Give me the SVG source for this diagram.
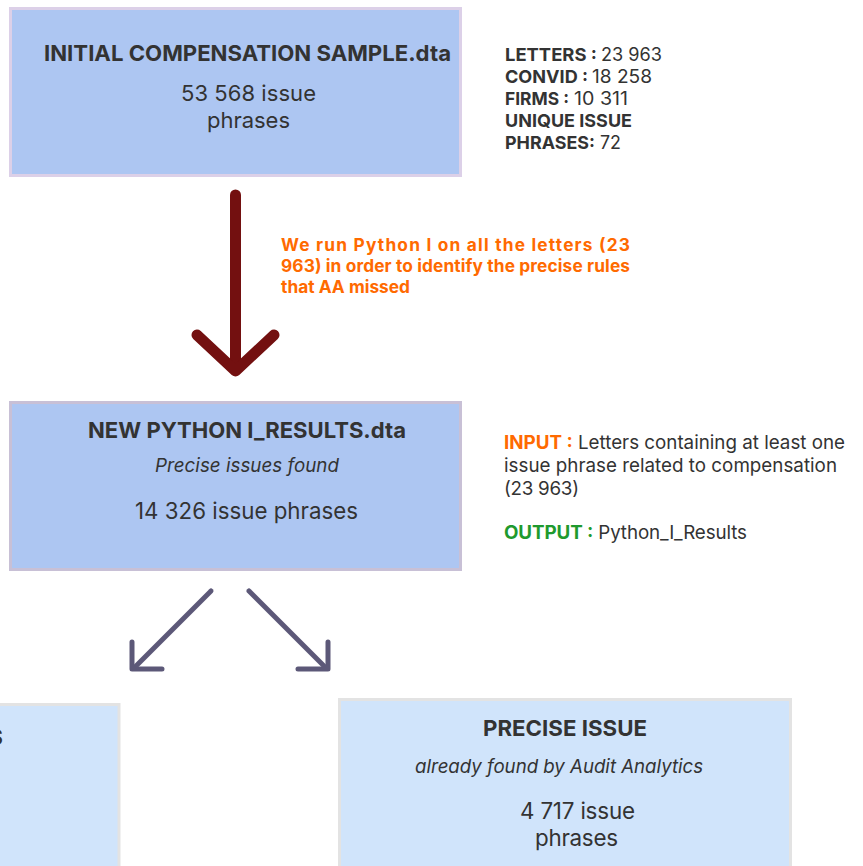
<svg xmlns="http://www.w3.org/2000/svg" width="863" height="866" viewBox="0 0 863 866">
<style>
text{font-family:Inter,"Noto Sans","Liberation Sans",sans-serif;fill:#333333}
.b{font-weight:700}
.i{font-style:italic}
.main{fill:#adc6f2;stroke:#dcd0e8;stroke-width:3}
.main2{fill:#adc6f2;stroke:#c8c0d6;stroke-width:3}
.sub{fill:#d0e4fb;stroke:#e3e3e3;stroke-width:3}
.or{fill:#ff6a00}
.gr{fill:#1f9a2e}
.m{text-anchor:middle}
</style>
<rect width="863" height="866" fill="#ffffff"/>
<g id="node-initial">
<rect class="main" x="10.5" y="8.5" width="450" height="167"/>
<text class="b" x="44" y="61" font-size="22" textLength="407" lengthAdjust="spacingAndGlyphs">INITIAL COMPENSATION SAMPLE.dta</text>
<text class="m" x="248.5" y="101" font-size="22" textLength="135">53 568 issue</text>
<text class="m" x="248.5" y="128" font-size="22" textLength="83">phrases</text>
</g>
<g id="note-stats" font-size="18">
<text class="b" x="505" y="61" textLength="92" lengthAdjust="spacingAndGlyphs">LETTERS :</text><text x="601" y="61" textLength="61" lengthAdjust="spacingAndGlyphs">23 963</text>
<text class="b" x="505" y="83" textLength="83" lengthAdjust="spacingAndGlyphs">CONVID :</text><text x="592" y="83" textLength="60" lengthAdjust="spacingAndGlyphs">18 258</text>
<text class="b" x="505" y="105" textLength="64" lengthAdjust="spacingAndGlyphs">FIRMS :</text><text x="574" y="105" textLength="54" lengthAdjust="spacingAndGlyphs">10 311</text>
<text class="b" x="505" y="127" textLength="127" lengthAdjust="spacingAndGlyphs">UNIQUE ISSUE</text>
<text class="b" x="505" y="149" textLength="90" lengthAdjust="spacingAndGlyphs">PHRASES:</text><text x="600" y="149" textLength="21" lengthAdjust="spacingAndGlyphs">72</text>
</g>
<g id="note-python" font-size="17.3" font-weight="700">
<text class="or" x="281" y="251" textLength="349" lengthAdjust="spacing">We run Python I on all the letters (23</text>
<text class="or" x="281" y="272" textLength="349" lengthAdjust="spacing">963) in order to identify the precise rules</text>
<text class="or" x="281" y="293" textLength="129">that AA missed</text>
</g>
<g id="node-python-results">
<rect class="main2" x="10.5" y="402.5" width="450" height="167"/>
<text class="b m" x="247" y="438" font-size="22" textLength="318" lengthAdjust="spacingAndGlyphs">NEW PYTHON I_RESULTS.dta</text>
<text class="i m" x="247" y="472" font-size="18.8" textLength="184">Precise issues found</text>
<text class="m" x="246.5" y="519" font-size="22.3" textLength="223">14 326 issue phrases</text>
</g>
<g id="note-io" font-size="18.8">
<text x="504" y="449" textLength="341"><tspan class="b or">INPUT :</tspan> Letters containing at least one</text>
<text x="504" y="472" textLength="333">issue phrase related to compensation</text>
<text x="504" y="495" textLength="75">(23 963)</text>
<text x="504" y="539" textLength="243"><tspan class="b gr">OUTPUT :</tspan> Python_I_Results</text>
</g>
<g id="node-left-partial">
<rect class="sub" x="-40" y="704.5" width="159" height="180"/>
<text class="b" x="3" y="745" font-size="22" text-anchor="end">S</text>
</g>
<g id="node-precise-issue">
<rect class="sub" x="339.5" y="699.5" width="451" height="190"/>
<text class="b m" x="565" y="736" font-size="22" textLength="164" lengthAdjust="spacingAndGlyphs">PRECISE ISSUE</text>
<text class="i m" x="559" y="773" font-size="18.7" textLength="288">already found by Audit Analytics</text>
<text class="m" x="577.5" y="819" font-size="22.4" textLength="115">4 717 issue</text>
<text class="m" x="576.5" y="846" font-size="22.4" textLength="83">phrases</text>
</g>
<g id="connectors" fill="none" stroke-linecap="round" stroke-linejoin="round">
<g stroke="#731010" stroke-width="11">
<line x1="235.5" y1="195" x2="235.5" y2="368"/>
<polyline points="197,335 235.5,371 274,335"/>
</g>
<g stroke="#5c5878" stroke-width="5">
<line x1="211" y1="591" x2="134" y2="668"/>
<polyline points="132,642 132,669 162,669"/>
<line x1="249" y1="591" x2="326" y2="668"/>
<polyline points="328,642 328,669 298,669"/>
</g>
</g>
</svg>
